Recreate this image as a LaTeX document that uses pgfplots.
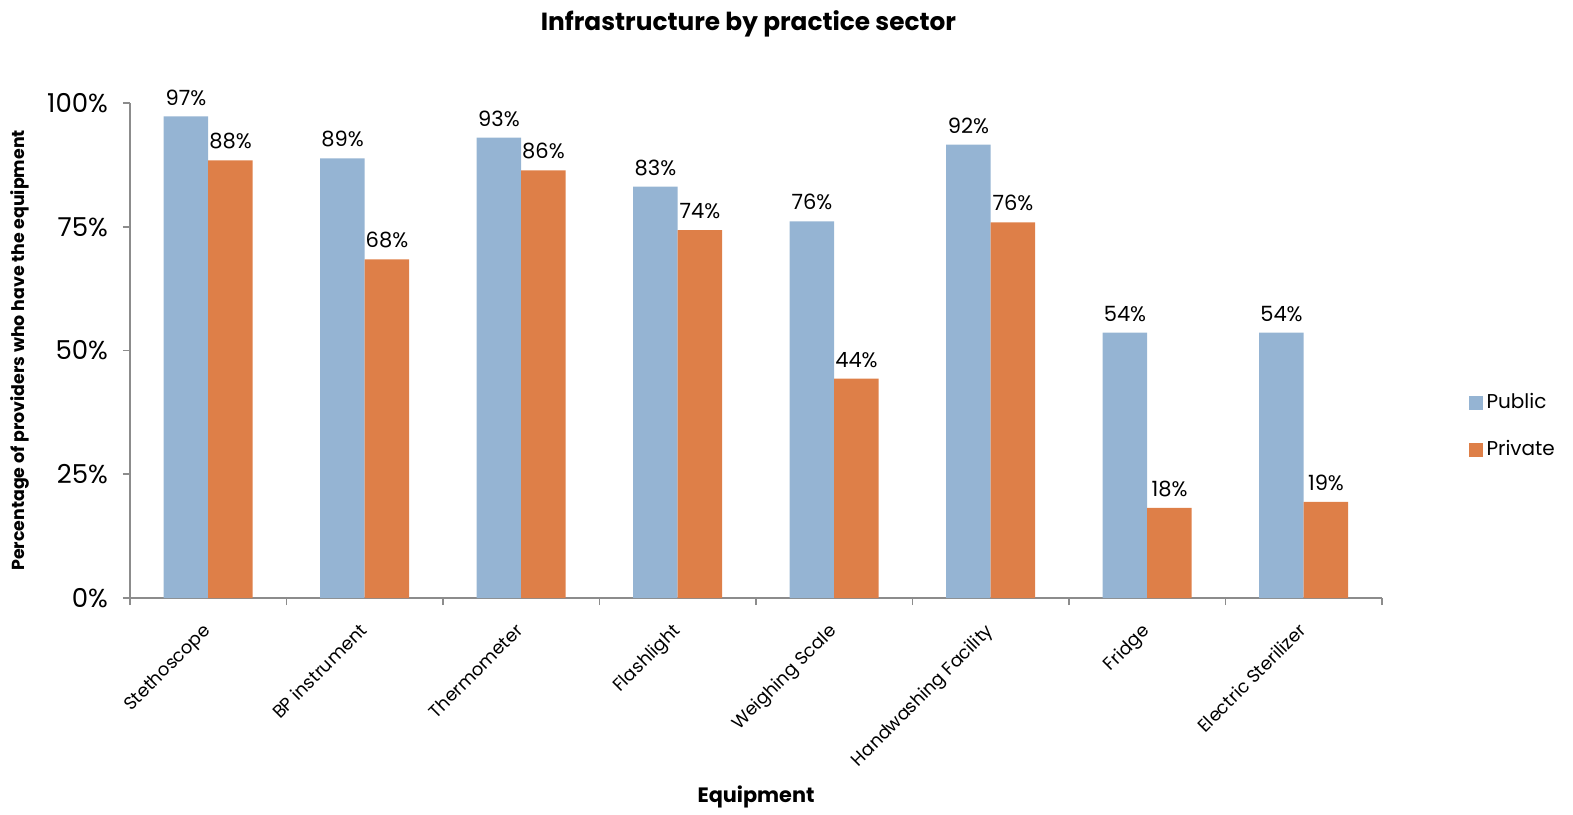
\documentclass[border=0pt]{standalone}
\usepackage{fontspec}
\setmainfont{Poppins}
\usepackage{pgfplots}
\pgfplotsset{compat=1.18}
\definecolor{pub}{HTML}{95B4D3}
\definecolor{pri}{HTML}{DE7F48}
\definecolor{axgray}{HTML}{8C8C8C}
\begin{document}
\begin{tikzpicture}
\begin{axis}[name=ax,
  scale only axis, width=626pt, height=247.5pt,
  ymin=0, ymax=100, xmin=-0.5, xmax=7.5,
  axis x line*=bottom, axis y line*=left,
  axis line style={axgray, line width=0.8pt},
  ybar=0pt, bar width=22.25pt,
  xtick={0,...,7},
  xticklabels={Stethoscope,BP instrument,Thermometer,Flashlight,Weighing Scale,Handwashing Facility,Fridge,Electric Sterilizer},
  major x tick style={draw=none},
  minor xtick={-0.5,0.5,...,7.5},
  minor x tick style={axgray, line width=0.8pt},
  minor tick length=3.5pt,
  tick align=outside,
  ytick={0,25,50,75,100},
  major y tick style={axgray, line width=0.8pt},
  major tick length=3.5pt,
  yticklabel={\pgfmathprintnumber{\tick}\%},
  /pgf/number format/assume math mode=true,
  yticklabel style={font=\fontsize{13}{15}\selectfont, xshift=-4pt},
  xticklabel style={font=\fontsize{9}{11}\selectfont, xshift=-3.3pt, yshift=-7pt, rotate=45, anchor=north east, inner sep=1pt},
  nodes near coords={\pgfmathprintnumber[fixed,precision=0]{\pgfplotspointmeta}\%},
  nodes near coords style={font=\fontsize{10.5}{12}\selectfont, anchor=south, yshift=2pt},
  title={\textbf{Infrastructure by practice sector}},
  title style={at={(axis description cs:0.494,1)}, anchor=center, yshift=33.5pt, font=\fontsize{12.4}{14}\selectfont},
  xlabel={\textbf{Equipment}},
  xlabel style={at={(axis description cs:0.5,0)}, anchor=center, yshift=-99.5pt, font=\fontsize{10.4}{12}\selectfont},
  ylabel={\textbf{Percentage of providers who have the equipment}},
  ylabel style={at={(axis description cs:-0.0879,0.5)}, anchor=center, font=\fontsize{8.7}{10}\selectfont},
  legend style={at={(1.064,0.347)}, anchor=west, draw=none, fill=none, font=\fontsize{10}{12}\selectfont, row sep=10.5pt, /tikz/every even column/.append style={column sep=0pt}},
  legend cell align=left,
  legend image code/.code={\fill[#1] (0pt,-3.5pt) rectangle (7pt,3.5pt);},
  clip=false,
]
\addplot[fill=pub, draw=none] coordinates {(0,97.3) (1,88.8) (2,93.0) (3,83.1) (4,76.1) (5,91.6) (6,53.6) (7,53.6)};
\addplot[fill=pri, draw=none] coordinates {(0,88.4) (1,68.4) (2,86.4) (3,74.3) (4,44.3) (5,75.9) (6,18.2) (7,19.4)};
\legend{Public,Private}
\end{axis}
\path (ax.south west) ++(-65pt,-108pt) rectangle ++(786.5pt,407pt);
\end{tikzpicture}
\end{document}
